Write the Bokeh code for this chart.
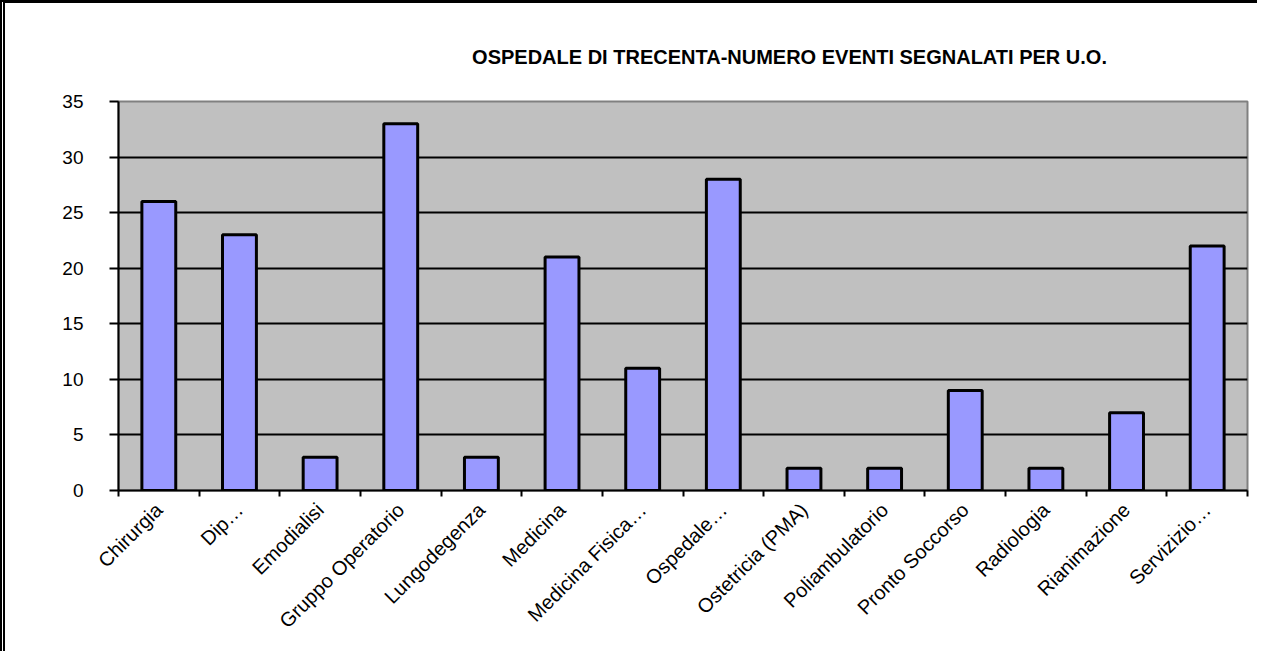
from bokeh.plotting import figure
from bokeh.models import FixedTicker, Range1d, ColumnDataSource
from bokeh.embed import file_html
from bokeh.resources import INLINE
import math

categories = ["Chirurgia", "Dip…", "Emodialisi", "Gruppo Operatorio", "Lungodegenza",
              "Medicina", "Medicina Fisica…", "Ospedale…", "Ostetricia (PMA)",
              "Poliambulatorio", "Pronto Soccorso", "Radiologia", "Rianimazione",
              "Servizizio…"]
values = [26, 23, 3, 33, 3, 21, 11, 28, 2, 2, 9, 2, 7, 22]
y_ticks = [0, 5, 10, 15, 20, 25, 30, 35]
title_text = "OSPEDALE DI TRECENTA-NUMERO  EVENTI SEGNALATI PER U.O."

n = len(categories)
xs = [i + 0.5 for i in range(n)]
src = ColumnDataSource(dict(x=xs, top=values, cat=categories))

p = figure(width=1257, height=651, output_backend="svg", toolbar_location=None,
           x_range=Range1d(0, n), y_range=Range1d(0, 35),
           min_border_left=113, min_border_right=15, min_border_top=98,
           min_border_bottom=164)

p.title.text = title_text
p.title.align = "right"
p.title.offset = 135
p.title.text_font = "Liberation Sans"
p.title.text_font_size = "20px"
p.title.text_font_style = "bold"
p.title.text_color = "black"
p.title.standoff = 68

p.background_fill_color = "#C0C0C0"
p.border_fill_color = "white"
p.outline_line_color = "#808080"
p.outline_line_width = 2

p.vbar(x="x", top="top", width=0.42, bottom=0, source=src,
       fill_color="#9999FF", line_color="black", line_width=3)

# x axis
p.xaxis.ticker = FixedTicker(ticks=xs, minor_ticks=list(range(0, n + 1)))
p.xaxis.major_label_overrides = {x: c for x, c in zip(xs, categories)}
p.xaxis.major_label_orientation = math.pi / 4
p.xaxis.major_tick_line_color = None
p.xaxis.minor_tick_line_color = "black"
p.xaxis.minor_tick_line_width = 2
p.xaxis.minor_tick_out = 6
p.xaxis.minor_tick_in = 0
p.xaxis.axis_line_color = "black"
p.xaxis.axis_line_width = 2
p.xaxis.major_label_text_font = "Liberation Sans"
p.xaxis.major_label_text_font_size = "20px"
p.xaxis.major_label_text_color = "black"
p.xaxis.major_label_standoff = 10

# y axis
p.yaxis.ticker = FixedTicker(ticks=y_ticks, minor_ticks=[])
p.yaxis.major_tick_out = 9
p.yaxis.major_tick_in = 0
p.yaxis.major_tick_line_width = 2
p.yaxis.axis_line_width = 2
p.yaxis.major_label_text_font = "Liberation Sans"
p.yaxis.major_label_text_font_size = "19px"
p.yaxis.major_label_text_color = "black"
p.yaxis.major_label_standoff = 26

p.xgrid.grid_line_color = None
p.ygrid.ticker = FixedTicker(ticks=[5, 10, 15, 20, 25, 30])
p.ygrid.grid_line_color = "black"
p.ygrid.grid_line_width = 2

p.styles = {"border-left": "5px double black", "border-top": "3px solid black"}

open("out.html", "w").write(file_html(p, INLINE))
